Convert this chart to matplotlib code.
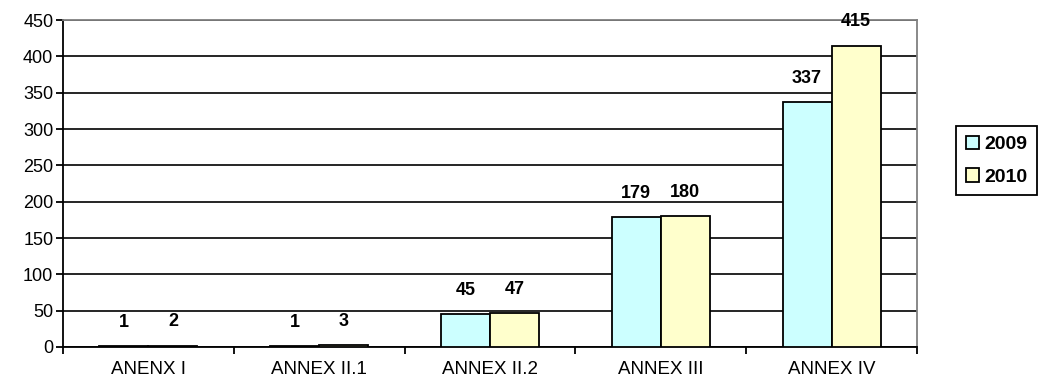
import matplotlib.pyplot as plt
import numpy as np

plt.rcParams['font.family'] = ['Liberation Sans', 'DejaVu Sans']

categories = ['ANENX I', 'ANNEX II.1', 'ANNEX II.2', 'ANNEX III', 'ANNEX IV']
series_names = ['2009', '2010']
values_2009 = [1, 1, 45, 179, 337]
values_2010 = [2, 3, 47, 180, 415]
colors = ['#CCFFFF', '#FFFFCC']


def plot_bars():
    fig = plt.figure(figsize=(10.42, 3.87), dpi=100)
    ax = fig.add_axes([0.0605, 0.1034, 0.8195, 0.8446])

    x = np.arange(len(categories))
    width = 0.287
    bars = []
    for i, (vals, name) in enumerate(zip([values_2009, values_2010], series_names)):
        offset = (i - 0.5) * width
        b = ax.bar(x + offset, vals, width, color=colors[i], edgecolor='black',
                   linewidth=1.3, label=name, zorder=3)
        bars.append(b)
        for xi, v in zip(x + offset, vals):
            ax.annotate(str(v), xy=(xi, v), xytext=(0, 17), textcoords='offset points',
                        ha='center', va='center', fontsize=13, fontweight='bold', zorder=4)

    ax.set_xlim(-0.5, len(categories) - 0.5)
    ax.set_ylim(0, 450)
    ax.set_yticks(range(0, 451, 50))
    ax.yaxis.grid(True, color='black', linewidth=1.2, zorder=0)
    ax.set_axisbelow(True)

    # ticks between categories, labels centred
    ax.set_xticks(np.arange(-0.5, len(categories), 1))
    ax.set_xticklabels([])
    ax.set_xticks(x, minor=True)
    ax.set_xticklabels(categories, minor=True)
    ax.tick_params(axis='x', which='minor', length=0, pad=10, labelsize=13.5)
    ax.tick_params(axis='x', which='major', length=5, width=1.3, direction='out')
    ax.tick_params(axis='y', length=5, width=1.3, direction='out', labelsize=13, pad=2)

    for s in ['left', 'bottom']:
        ax.spines[s].set_color('black')
        ax.spines[s].set_linewidth(1.3)
    for s in ['top', 'right']:
        ax.spines[s].set_color('#808080')
        ax.spines[s].set_linewidth(1.3)

    leg = fig.legend(handles=bars, labels=series_names, loc='upper left',
                     bbox_to_anchor=(0.9175, 0.674), fancybox=False, framealpha=1,
                     edgecolor='black', handlelength=0.7, handleheight=0.7,
                     handletextpad=0.25, borderpad=0.5, labelspacing=0.75,
                     borderaxespad=0, prop={'weight': 'bold', 'size': 14})
    leg.get_frame().set_linewidth(1.3)

    fig.savefig('out.png', dpi=100)


plot_bars()
